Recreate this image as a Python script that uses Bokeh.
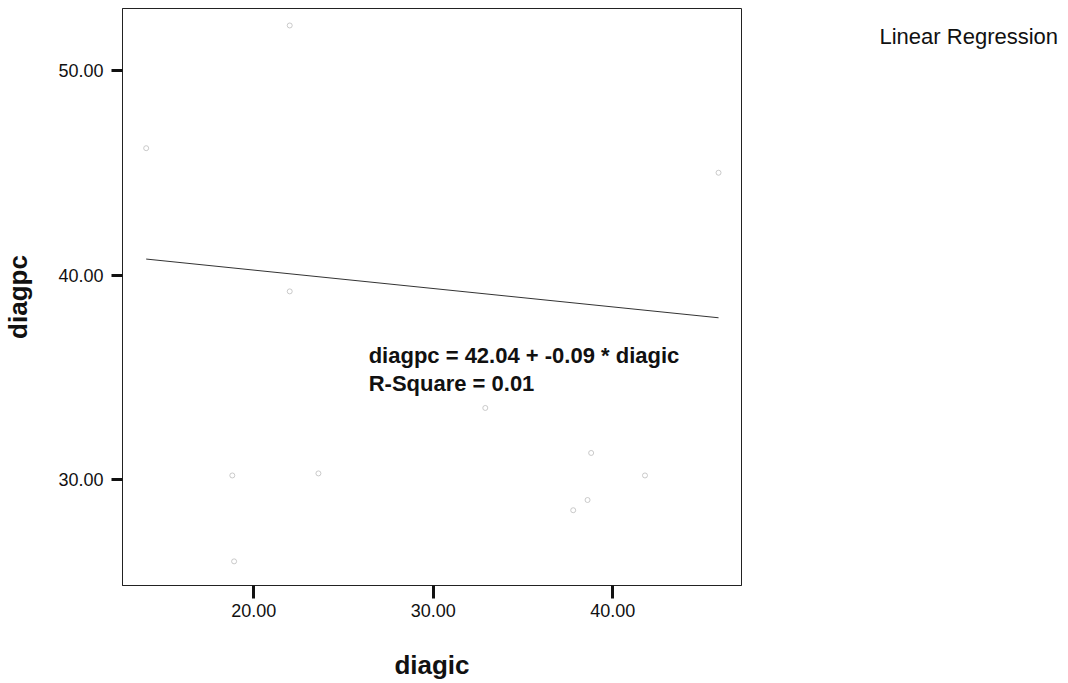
from bokeh.plotting import figure
from bokeh.layouts import row
from bokeh.models import FixedTicker, PrintfTickFormatter, Label, Range1d
from bokeh.embed import file_html
from bokeh.resources import INLINE

# Observations: diagic (x) vs diagpc (y)
diagic = [22.0, 14.0, 22.0, 45.9, 18.8, 23.6, 18.9, 32.9, 38.8, 41.8, 38.6, 37.8]
diagpc = [52.2, 46.2, 39.2, 45.0, 30.2, 30.3, 26.0, 33.5, 31.3, 30.2, 29.0, 28.5]

# Fitted linear model
intercept = 42.04
slope = -0.09
r_square = 0.01

x_ticks = [20, 30, 40]
y_ticks = [30, 40, 50]

FONT = "Liberation Sans"

p = figure(
    width=860, height=683,
    x_range=Range1d(12.68, 47.18), y_range=Range1d(24.82, 53.03),
    output_backend="svg", toolbar_location=None,
    min_border_left=118, min_border_right=119,
    min_border_top=8, min_border_bottom=98,
)
p.grid.visible = False
p.outline_line_color = "#222222"
p.outline_line_width = 1
p.background_fill_color = "white"
p.border_fill_color = "white"

for ax in (p.xaxis[0], p.yaxis[0]):
    ax.formatter = PrintfTickFormatter(format="%.2f")
    ax.minor_tick_line_color = None
    ax.major_tick_in = 0
    ax.major_tick_line_width = 3
    ax.major_tick_line_color = "#111111"
    ax.axis_line_color = "#222222"
    ax.major_label_text_font = FONT
    ax.major_label_text_font_size = "18px"
    ax.major_label_text_color = "#111111"
    ax.axis_label_text_font = FONT
    ax.axis_label_text_font_style = "bold"
    ax.axis_label_text_font_size = "26px"
    ax.axis_label_text_color = "#111111"

p.xaxis.ticker = FixedTicker(ticks=x_ticks)
p.yaxis.ticker = FixedTicker(ticks=y_ticks)
p.xaxis.axis_label = "diagic"
p.yaxis.axis_label = "diagpc"
p.xaxis.major_tick_out = 13
p.yaxis.major_tick_out = 11
p.xaxis.major_label_standoff = 5
p.yaxis.major_label_standoff = 8
p.xaxis.axis_label_standoff = 30
p.yaxis.axis_label_standoff = 22

# Scatter of observations
p.scatter(diagic, diagpc, marker="circle", size=5, fill_color=None,
          line_color="#bdbdbd", line_width=0.8)

# Regression line over the observed diagic range
x0, x1 = min(diagic), max(diagic)
p.line([x0, x1], [intercept + slope * x0, intercept + slope * x1],
       line_color="#333333", line_width=1)

eq = f"diagpc = {intercept:.2f} + {slope:.2f} * diagic"
rs = f"R-Square = {r_square:.2f}"
for txt, yy in ((eq, 36.06), (rs, 34.69)):
    p.add_layout(Label(x=26.4, y=yy, text=txt, text_font=FONT,
                       text_font_style="bold", text_font_size="22px",
                       text_color="#111111", text_baseline="alphabetic"))

# Side panel holding the fit-method caption (pixel-sized ranges)
side = figure(width=208, height=683, x_range=Range1d(0, 208), y_range=Range1d(0, 683),
              output_backend="svg", toolbar_location=None,
              x_axis_location=None, y_axis_location=None,
              min_border_left=0, min_border_right=0, min_border_top=0, min_border_bottom=0)
side.grid.visible = False
side.outline_line_color = None
side.add_layout(Label(x=19, y=683 - 33, text="Linear Regression", text_font=FONT,
                      text_font_size="22px", text_color="#111111",
                      text_baseline="alphabetic"))

layout = row(p, side)
open("out.html", "w").write(file_html(layout, INLINE))
